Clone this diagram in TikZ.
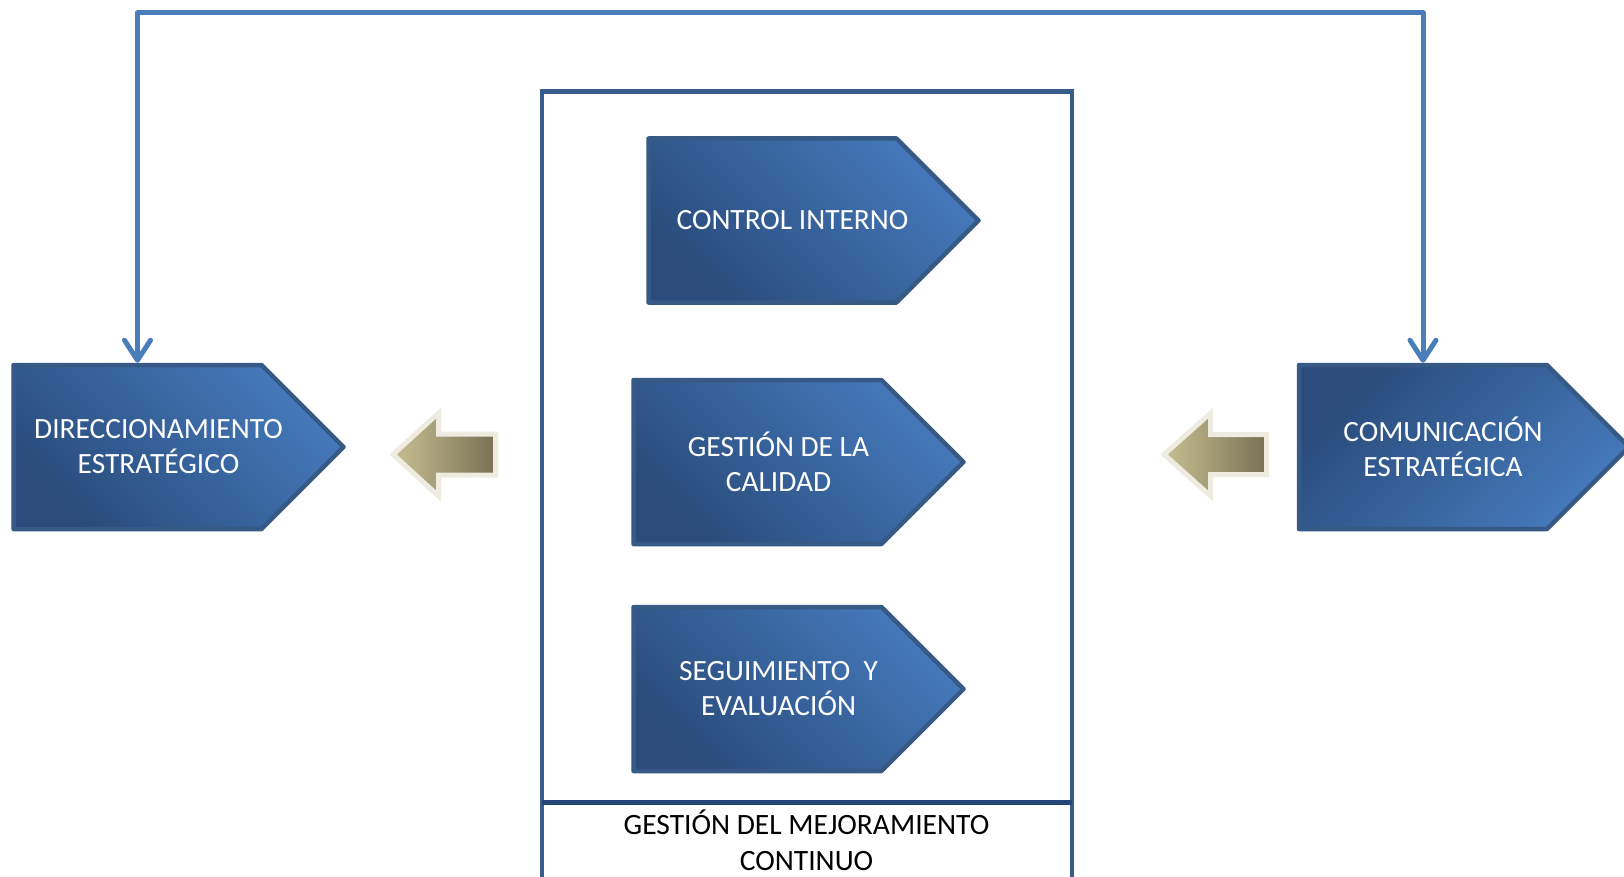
\documentclass[tikz,border=0pt]{standalone}
\usepackage{fontspec}
\setmainfont{Carlito}
\usepackage{xcolor}
\usepackage{tikz}
\usetikzlibrary{arrows.meta}
\usetikzlibrary{shapes.symbols}

\definecolor{bluedark}{RGB}{42,75,123}
\definecolor{bluelight}{RGB}{69,122,188}
\definecolor{blueedge}{RGB}{54,89,134}
\definecolor{loopblue}{RGB}{74,126,187}
\definecolor{frameblue}{RGB}{56,93,138}
\definecolor{framedark}{RGB}{37,70,120}
\definecolor{olivelight}{RGB}{199,191,146}
\definecolor{olivedark}{RGB}{120,113,84}
\definecolor{olivecream}{RGB}{238,236,225}

\tikzset{
  homeplate/.style={signal, signal to=east, signal pointer angle=90, draw=blueedge, line width=4.5pt, line join=round, inner xsep=124pt, inner ysep=82pt, top color=bluelight, bottom color=bluedark, shading angle=-45},
  platetext/.style={text=white, align=center, inner sep=0pt, font=\fontsize{29.4}{35}\selectfont},
  captext/.style={text=black, align=center, inner sep=0pt, font=\fontsize{29.5}{35.6}\selectfont},
  loopline/.style={draw=loopblue, line width=5pt, line join=round, {Straight Barb[length=20pt,width=26pt,round]}-{Straight Barb[length=20pt,width=26pt,round]}},
  olivearrow/.style={draw=olivecream, line width=5pt, left color=olivelight, right color=olivedark},
  frameline/.style={draw=frameblue, line width=4.5pt}
}

\begin{document}
\begin{tikzpicture}[x=1pt,y=1pt,yscale=-1,xscale=1]
  \useasboundingbox (0,0) rectangle (1624,877);

  %Shape: Rectangle [frame]
  \draw [frameline] (542,91.5) rectangle (1072,900) ;
  %Straight Lines [divider]
  \draw [frameline, draw=framedark] (542,802.5) -- (1072,802.5) ;

  %Shape: Home plates
  \node [homeplate] (dir) at (137.5,447) {};
  \node [homeplate, top color=bluedark, bottom color=bluelight, shading angle=45] (com) at (1423,447) {};
  \node [homeplate] (ctrl) at (772.5,220.5) {};
  \node [homeplate] (cal) at (757.5,462) {};
  \node [homeplate] (seg) at (757.5,689) {};

  %Shape: Left Arrow [left]
  \draw [olivearrow] (393,454.5) -- (438.5,413) -- (438.5,434) -- (495.5,434) -- (495.5,475) -- (438.5,475) -- (438.5,496) -- cycle ;
  %Shape: Left Arrow [right]
  \draw [olivearrow] (1164,454.5) -- (1210.5,413) -- (1210.5,434.5) -- (1266.5,434.5) -- (1266.5,474.5) -- (1210.5,474.5) -- (1210.5,496) -- cycle ;

  %Connector
  \coordinate (looptop) at (0,13);
  \draw [loopline] (dir.north) -- (dir.north |- looptop) -| (com.north) ;

  % Text Node
  \node [platetext] (dirtext) at ([xshift=21pt]dir.center) {DIRECCIONAMIENTO\\ESTRATÉGICO};
  % Text Node
  \node [platetext] (comtext) at ([xshift=20pt]com.center) {COMUNICACIÓN\\ESTRATÉGICA};
  % Text Node
  \node [platetext] (ctrltext) at ([xshift=20pt]ctrl.center) {CONTROL INTERNO};
  % Text Node
  \node [platetext] (caltext) at ([xshift=21pt]cal.center) {GESTIÓN DE LA\\CALIDAD};
  % Text Node
  \node [platetext] (segtext) at ([xshift=21pt]seg.center) {SEGUIMIENTO\ \ Y\\EVALUACIÓN};
  % Text Node
  \node [captext] (mejora) at (806.5,840) {GESTIÓN DEL MEJORAMIENTO\\CONTINUO};

\end{tikzpicture}
\end{document}
